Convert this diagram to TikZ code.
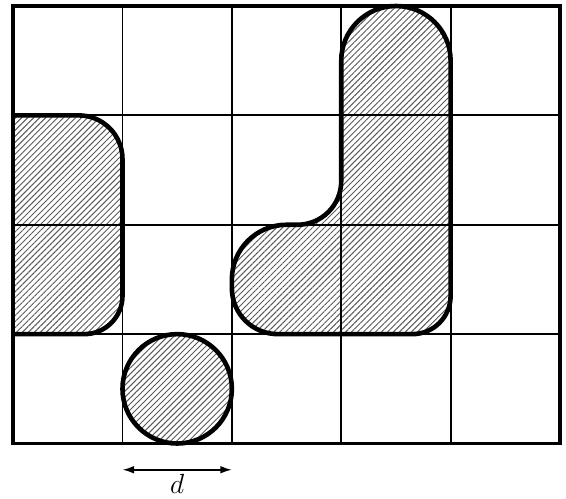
\documentclass[tikz,border=0pt]{standalone}
\usepackage{tikz}
\usetikzlibrary{arrows.meta,patterns.meta}

\begin{document}
\begin{tikzpicture}[
  x=2cm, y=2cm,
  gridline/.style={line width=1pt, black},
  frame/.style={line width=2pt, black},
  hatched/.style={pattern={Lines[angle=45, distance=2.2pt, line width=0.5pt]},
                  pattern color=black!65},
  outline/.style={line width=2.4pt, black, line join=round},
  dimarrow/.style={{Latex[length=6pt,width=4pt]}-{Latex[length=6pt,width=4pt]}, line width=0.9pt},
  dimlabel/.style={font=\Large, inner sep=0pt},
]
\useasboundingbox (-0.12,-0.5) rectangle (5.055,4.055);

%% ── Hatched particles ──────────────────────────────────────────────────────
\fill[hatched] (0,3) -- (0.6,3) arc[start angle=90, end angle=0, radius=0.4]
  -- (1,1.35) arc[start angle=0, end angle=-90, radius=0.35] -- (0,1) -- cycle;
\fill[hatched] (1.5,0.5) circle[radius=0.5];
\fill[hatched] (3,3.5) arc[start angle=180, end angle=0, radius=0.5]
  -- (4,1.35) arc[start angle=0, end angle=-90, radius=0.35]
  -- (2.42,1) arc[start angle=270, end angle=180, radius=0.42]
  -- (2,1.5) arc[start angle=180, end angle=90, radius=0.5]
  -- (2.6,2) arc[start angle=-90, end angle=0, radius=0.4] -- cycle;

%% ── Grid ───────────────────────────────────────────────────────────────────
\foreach \gx in {1,...,4} \draw[gridline] (\gx,0) -- (\gx,4);
\foreach \gy in {1,...,3} \draw[gridline] (0,\gy) -- (5,\gy);

%% ── Particle outlines ──────────────────────────────────────────────────────
\draw[outline] (0,3) -- (0.6,3) arc[start angle=90, end angle=0, radius=0.4]
  -- (1,1.35) arc[start angle=0, end angle=-90, radius=0.35] -- (0,1);
\draw[outline] (1.5,0.5) circle[radius=0.5];
\draw[outline] (3,3.5) arc[start angle=180, end angle=0, radius=0.5]
  -- (4,1.35) arc[start angle=0, end angle=-90, radius=0.35]
  -- (2.42,1) arc[start angle=270, end angle=180, radius=0.42]
  -- (2,1.5) arc[start angle=180, end angle=90, radius=0.5]
  -- (2.6,2) arc[start angle=-90, end angle=0, radius=0.4] -- cycle;

%% ── Frame ──────────────────────────────────────────────────────────────────
\draw[frame] (0,0) rectangle (5,4);

%% ── Diameter ───────────────────────────────────────────────────────────────
\coordinate (dleft)  at (1,-0.24);
\coordinate (dright) at (2,-0.24);
\draw[dimarrow] (dleft) -- (dright);
\node[dimlabel] (dlabel) at (1.5,-0.37) {$d$};

\end{tikzpicture}
\end{document}
